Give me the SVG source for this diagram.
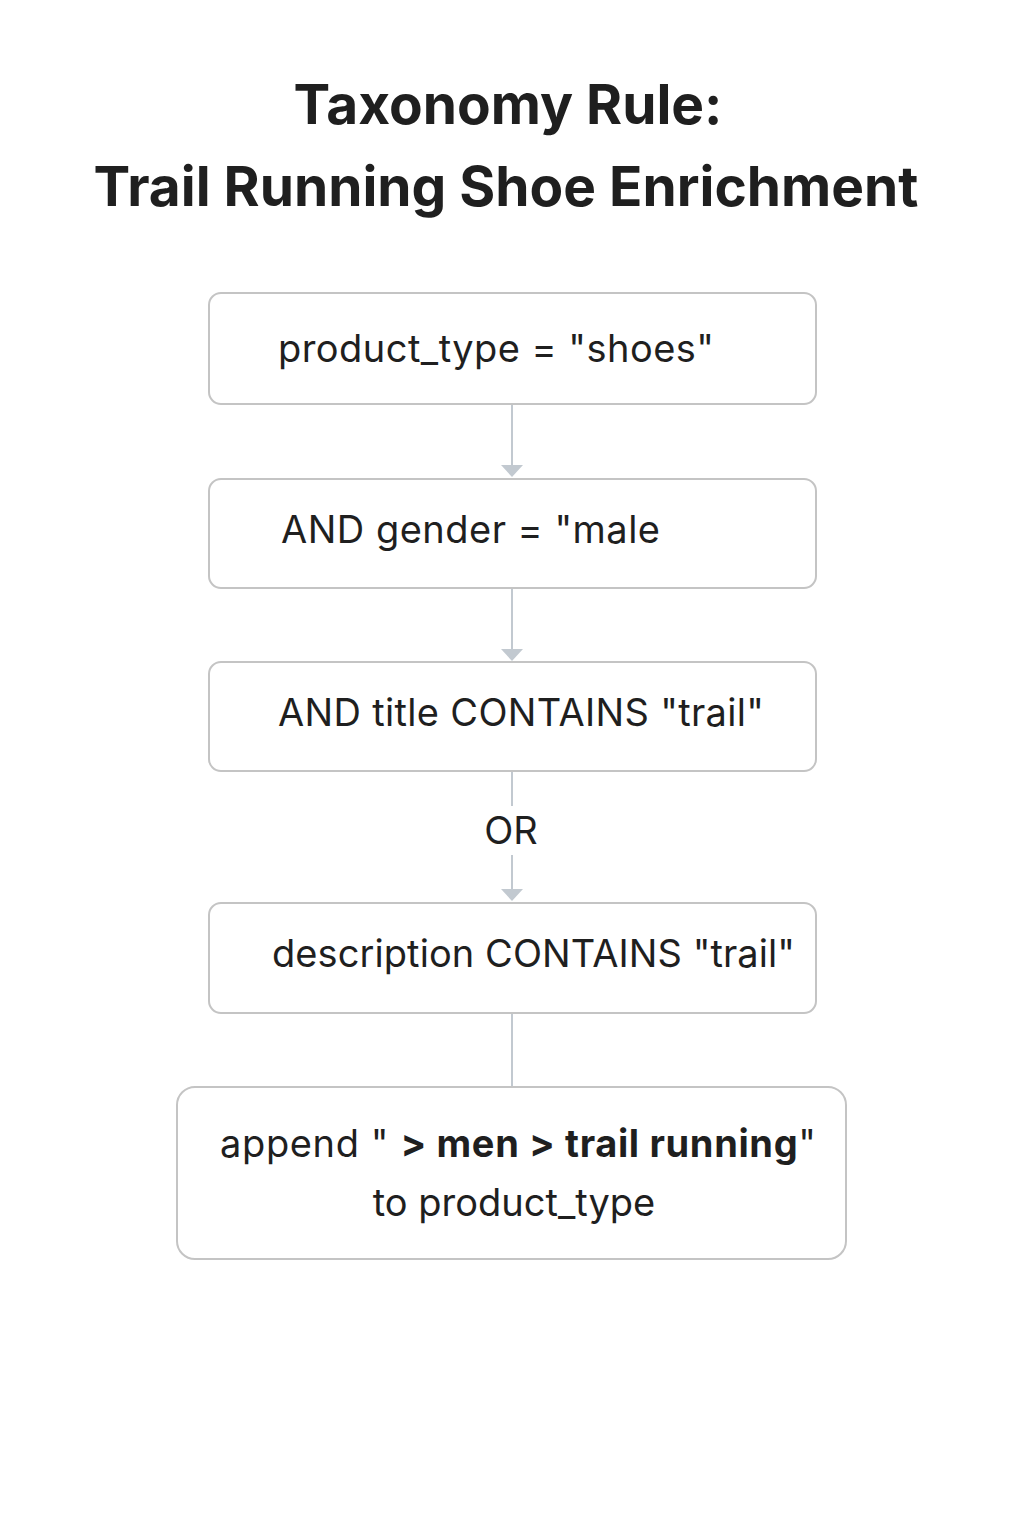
<svg xmlns="http://www.w3.org/2000/svg" width="1024" height="1536" viewBox="0 0 1024 1536">
<style>
.box{fill:#fff;stroke:#c4c4c4;stroke-width:2}
.t{font-family:Inter,"Liberation Sans",sans-serif;font-size:38px;fill:#1f1f1f}
.h{font-family:Inter,"Liberation Sans",sans-serif;font-size:55px;font-weight:bold;fill:#1f1f1f;text-anchor:middle}
.c{stroke:#c2c9d0;stroke-width:2;fill:none}
</style>
<defs><marker id="a" markerWidth="12" markerHeight="22" refX="11" refY="11" orient="auto" markerUnits="userSpaceOnUse"><path d="M0,0 L12,11 L0,22z" fill="#c2c9d0"/></marker></defs>
<rect width="1024" height="1536" fill="#fff"/>
<text class="h" x="508" y="124">Taxonomy Rule:</text>
<text class="h" x="506" y="206">Trail Running Shoe Enrichment</text>
<g id="connectors">
<path class="c" d="M512,405 V476" marker-end="url(#a)"/>
<path class="c" d="M512,589 V660" marker-end="url(#a)"/>
<path class="c" d="M512,772 V806"/>
<path class="c" d="M512,855 V900" marker-end="url(#a)"/>
<path class="c" d="M512,1014 V1087"/>
<text class="t" x="511" y="844" text-anchor="middle">OR</text>
</g>
<g id="n1"><rect class="box" x="209" y="293" width="607" height="111" rx="12"/><text class="t" x="278" y="362" textLength="436">product_type = "shoes"</text></g>
<g id="n2"><rect class="box" x="209" y="479" width="607" height="109" rx="12"/><text class="t" x="281" y="543" textLength="379">AND gender = "male</text></g>
<g id="n3"><rect class="box" x="209" y="662" width="607" height="109" rx="12"/><text class="t" x="278" y="726" textLength="486">AND title CONTAINS "trail"</text></g>
<g id="n4"><rect class="box" x="209" y="903" width="607" height="110" rx="12"/><text class="t" x="272" y="967" textLength="523">description CONTAINS "trail"</text></g>
<g id="n5"><rect class="box" x="177" y="1087" width="669" height="172" rx="18"/>
<text class="t" x="220" y="1157" textLength="596">append " <tspan font-weight="bold">&gt; men &gt; trail running</tspan>"</text>
<text class="t" x="514" y="1216" text-anchor="middle">to product_type</text></g>
</svg>
